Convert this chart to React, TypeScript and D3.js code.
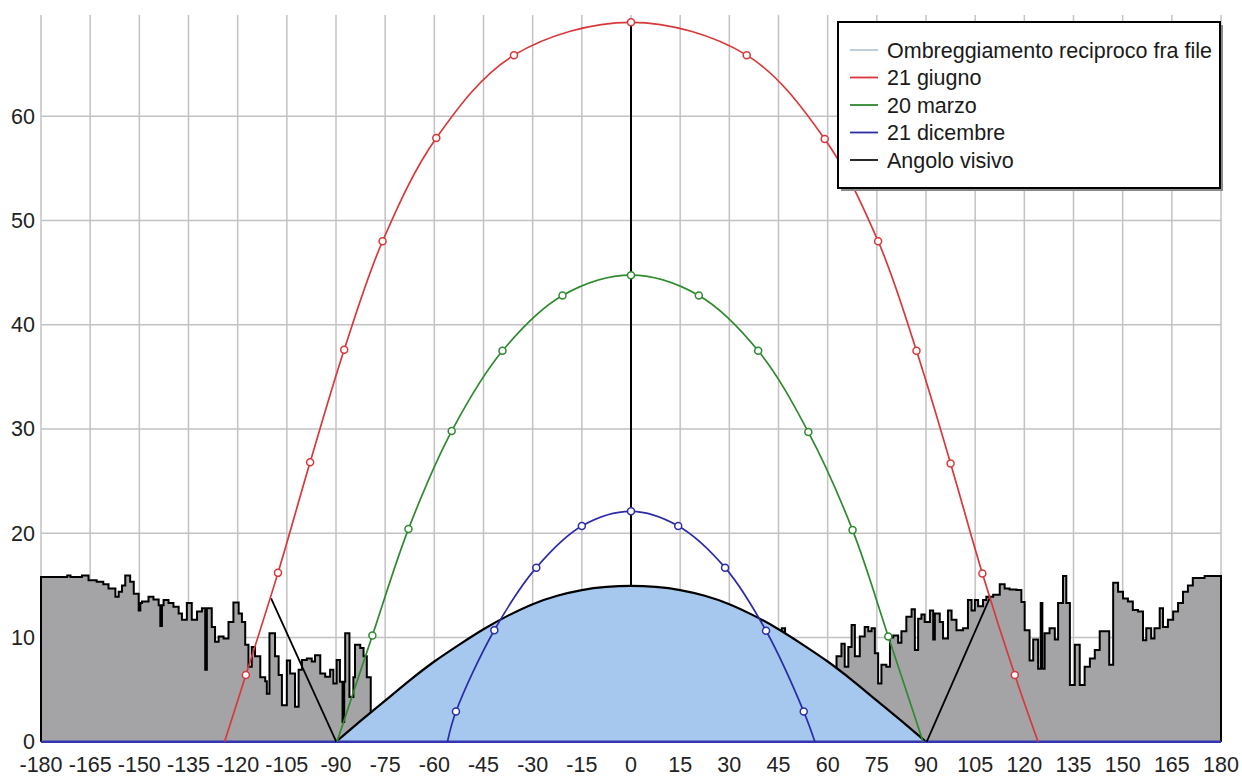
import React, { useEffect, useRef } from 'react';
import * as d3 from 'd3';

// azimuth (deg from south) / altitude (deg)
const azimuthTicks = [-180, -165, -150, -135, -120, -105, -90, -75, -60, -45, -30, -15, 0, 15, 30, 45, 60, 75, 90, 105, 120, 135, 150, 165, 180];
const altitudeTicks = [0, 10, 20, 30, 40, 50, 60];

const june: [number, number][] = [
  [-124, 0], [-117.5, 6.4], [-107.7, 16.2], [-97.9, 26.8], [-87.5, 37.6], [-75.8, 48.0], [-59.4, 57.9], [-35.7, 65.85],
  [0, 69.0], [35.3, 65.85], [59.1, 57.8], [75.4, 48.0], [87.1, 37.5], [97.5, 26.7], [107.2, 16.15], [117.1, 6.4], [124.2, 0],
];
const march: [number, number][] = [
  [-89.7, 0], [-78.9, 10.2], [-67.9, 20.4], [-54.7, 29.8], [-39.2, 37.5], [-20.9, 42.8],
  [0, 44.75], [20.7, 42.8], [38.8, 37.5], [54.1, 29.7], [67.6, 20.3], [78.5, 10.1], [89.1, 0],
];
const december: [number, number][] = [
  [-56.0, 0], [-53.4, 2.9], [-41.7, 10.7], [-28.9, 16.7], [-15.0, 20.7],
  [0, 22.1], [14.4, 20.7], [28.7, 16.7], [41.2, 10.65], [52.7, 2.9], [56.1, 0],
];
const decemberNight: [number, number][] = [[-180, 0], [180, 0]];

// mutual shading between rows
const shading: [number, number][] = [
  [-90, 0], [-82.5, 2.0], [-75, 3.95], [-67.5, 5.9], [-60, 7.7], [-52.5, 9.3], [-45, 10.8], [-37.5, 12.1],
  [-30, 13.2], [-22.5, 14.0], [-15, 14.55], [-7.5, 14.85], [0, 14.95], [7.5, 14.85], [15, 14.55], [22.5, 14.0],
  [30, 13.2], [37.5, 12.1], [45, 10.8], [52.5, 9.3], [60, 7.7], [67.5, 5.9], [75, 3.95], [82.5, 2.0], [90, 0],
];

// horizon profile (step start azimuth, altitude)
const horizon: [number, number][] = [
  [-180, 15.8], [-172, 15.95], [-171, 15.8], [-167.5, 15.95], [-165.5, 15.5], [-163, 15.35], [-161, 15.1],
  [-159.4, 14.7], [-157.3, 13.9], [-156.3, 14.4], [-155.3, 15.0], [-154.3, 15.95], [-152.8, 15.35], [-151.7, 14.2],
  [-150.2, 12.6], [-149.7, 13.3], [-149.2, 13.45], [-147.2, 13.9], [-145.7, 13.65], [-144.1, 13.1], [-143.6, 11.1],
  [-143.1, 13.1], [-142.6, 13.6], [-141.1, 13.3], [-139.6, 12.95], [-138, 12.3], [-137, 11.7], [-135.5, 13.3],
  [-134, 11.7], [-132.4, 12.5], [-130.9, 12.8], [-129.9, 6.9], [-129.4, 12.8], [-127.9, 11.0], [-126.9, 9.6],
  [-125.8, 10.1], [-124.3, 9.9], [-122.8, 11.5], [-121.3, 13.35], [-119.7, 12.3], [-118.7, 11.5], [-117.7, 9.3],
  [-116.7, 7.2], [-115.7, 9.1], [-114.7, 8.2], [-113.1, 6.2], [-111.6, 5.8], [-111.1, 4.6], [-110.3, 10.4],
  [-108.6, 8.2], [-107.5, 6.4], [-106.5, 3.5], [-105, 7.8], [-104, 6.55], [-102.5, 3.35], [-101.4, 6.9],
  [-100.4, 7.85], [-98.9, 8.0], [-97.4, 7.7], [-96.4, 8.3], [-94.8, 6.55], [-93.3, 6.25], [-91.8, 6.9],
  [-90.8, 5.6], [-89.8, 7.85], [-88.8, 5.75], [-88.0, 1.9], [-87.5, 5.75], [-87.2, 10.4], [-85.9, 4.3],
  [-84.7, 6.2], [-84.2, 9.3], [-82.6, 9.0], [-81.6, 8.2], [-80.6, 6.2], [-79.4, 2.5], [46.0, 10.9], [47.0, 2.5],
  [62.7, 8.2], [64.2, 9.4], [65.2, 7.2], [66.3, 9.1], [67.3, 11.2], [68.3, 8.2], [69.8, 10.1], [71.3, 11.0],
  [72.4, 10.6], [73.4, 10.9], [74.4, 8.5], [75.4, 5.6], [76.4, 7.4], [77.9, 7.2], [79.0, 10.0], [80.0, 10.2],
  [81.5, 9.5], [82.5, 10.6], [84.0, 12.0], [85.6, 12.7], [86.6, 8.8], [87.6, 11.8], [88.6, 12.2], [89.6, 11.5],
  [91.2, 12.6], [92.2, 9.8], [92.7, 12.3], [94.2, 11.5], [95.2, 9.9], [96.7, 12.6], [97.8, 11.7], [99.3, 10.7],
  [101.3, 10.9], [102.8, 13.6], [103.9, 12.6], [104.9, 13.6], [105.9, 13.0], [107.4, 13.6], [108.4, 13.9],
  [110.5, 14.1], [112.5, 15.1], [114.0, 14.7], [115.5, 14.6], [117.6, 14.55], [119.1, 13.4], [120.1, 10.7],
  [121.6, 7.8], [122.7, 9.8], [124.2, 7.0], [125.0, 13.3], [125.5, 7.0], [126.2, 10.4], [127.7, 10.9],
  [129.3, 9.8], [130.3, 13.3], [131.8, 15.9], [132.8, 13.3], [133.9, 5.45], [135.4, 9.3], [136.9, 5.45],
  [138.4, 7.2], [140.0, 8.0], [141.5, 8.8], [143.0, 10.6], [145.9, 7.4], [147.1, 15.25], [148.6, 14.4],
  [150.1, 13.75], [151.6, 13.45], [153.1, 12.65], [154.7, 12.5], [156.2, 9.75], [157.2, 10.9], [158.7, 9.9],
  [159.7, 10.9], [161.3, 12.8], [162.3, 11.0], [163.8, 11.7], [165.4, 12.5], [166.9, 13.3], [168.4, 14.4],
  [169.9, 15.0], [171.4, 15.7], [173.5, 15.7], [175.0, 15.9], [180, 15.9],
];

// visual angle lines
const viewNoon: [number, number][] = [[0, 0], [0, 69.0]];
const viewSides: [number, number][][] = [
  [[-109.8, 13.75], [-89.9, 0]],
  [[90.2, 0], [109.6, 13.9]],
];

const legendLabels = ['Ombreggiamento reciproco fra file', '21 giugno', '20 marzo', '21 dicembre', 'Angolo visivo'];
const legendColors = ['#b4cadb', '#d9383a', '#2e8a2e', '#2c2ca6', '#111'];

const FONT = '"Liberation Sans", Arial, sans-serif';

const App = () => {
  const svgRef = useRef<SVGSVGElement>(null);

  useEffect(() => {
    const svg = d3.select(svgRef.current);
    svg.selectAll('*').remove();

    const x = d3.scaleLinear().domain([-180, 180]).range([41, 1221]);
    const y = d3.scaleLinear().domain([0, 69.7]).range([741.8, 15]);

    const g = svg.append('g');

    // grid
    g.append('g')
      .selectAll('line')
      .data(azimuthTicks)
      .enter()
      .append('line')
      .attr('x1', d => x(d)).attr('x2', d => x(d))
      .attr('y1', y(0)).attr('y2', y(69.7))
      .attr('stroke', '#c2c2c2').attr('stroke-width', 1.5);
    g.append('g')
      .selectAll('line')
      .data(altitudeTicks)
      .enter()
      .append('line')
      .attr('x1', x(-180)).attr('x2', x(180))
      .attr('y1', d => y(d)).attr('y2', d => y(d))
      .attr('stroke', '#c2c2c2').attr('stroke-width', 1.5);

    // horizon
    const hArea = d3.area<[number, number]>()
      .x(d => x(d[0])).y0(y(0)).y1(d => y(d[1]))
      .curve(d3.curveStepAfter);
    g.append('path').datum(horizon).attr('d', hArea).attr('fill', '#a4a4a6');
    const hLine = d3.line<[number, number]>()
      .x(d => x(d[0])).y(d => y(d[1]))
      .curve(d3.curveStepAfter);
    g.append('path')
      .datum([[-180, 0] as [number, number], ...horizon, [180, 0] as [number, number]])
      .attr('d', hLine)
      .attr('fill', 'none').attr('stroke', '#000').attr('stroke-width', 2);

    const line = d3.line<[number, number]>().x(d => x(d[0])).y(d => y(d[1]));

    g.append('path').datum(viewNoon).attr('d', line)
      .attr('stroke', '#000').attr('stroke-width', 2).attr('fill', 'none');

    // mutual shading dome
    const sArea = d3.area<[number, number]>()
      .x(d => x(d[0])).y0(y(0)).y1(d => y(d[1]))
      .curve(d3.curveMonotoneX);
    g.append('path').datum(shading).attr('d', sArea).attr('fill', '#a7c8ee');
    g.append('path').datum(shading)
      .attr('d', line.curve(d3.curveMonotoneX))
      .attr('fill', 'none').attr('stroke', '#000').attr('stroke-width', 2.2);
    line.curve(d3.curveLinear);

    g.append('path').datum(decemberNight).attr('d', line)
      .attr('stroke', '#3535b0').attr('stroke-width', 2.5).attr('fill', 'none');

    viewSides.forEach(seg => {
      g.append('path').datum(seg).attr('d', line)
        .attr('stroke', '#000').attr('stroke-width', 1.8).attr('fill', 'none');
    });

    // sun paths
    const smooth = d3.line<[number, number]>()
      .x(d => x(d[0])).y(d => y(d[1]))
      .curve(d3.curveCatmullRom.alpha(0.5));
    const series: [[number, number][], string][] = [
      [june, '#d9383a'],
      [march, '#2e8a2e'],
      [december, '#2c2ca6'],
    ];
    series.forEach(([data, color]) => {
      g.append('path').datum(data).attr('d', smooth)
        .attr('fill', 'none').attr('stroke', color).attr('stroke-width', 1.7);
      g.append('g')
        .selectAll('circle')
        .data(data.filter(d => d[1] > 0))
        .enter()
        .append('circle')
        .attr('cx', d => x(d[0]))
        .attr('cy', d => y(d[1]))
        .attr('r', 3.5)
        .attr('fill', '#fff')
        .attr('stroke', color)
        .attr('stroke-width', 1.5);
    });

    // tick labels
    g.append('g')
      .selectAll('text')
      .data(azimuthTicks)
      .enter()
      .append('text')
      .attr('x', d => x(d))
      .attr('y', 772)
      .attr('text-anchor', 'middle')
      .style('font-family', FONT)
      .style('font-size', '21.5px')
      .style('fill', '#222')
      .text(d => `${d}`);
    g.append('g')
      .selectAll('text')
      .data(altitudeTicks)
      .enter()
      .append('text')
      .attr('x', 35)
      .attr('y', d => y(d) + 7.5)
      .attr('text-anchor', 'end')
      .style('font-family', FONT)
      .style('font-size', '21.5px')
      .style('fill', '#222')
      .text(d => `${d}`);

    // legend
    const lg = svg.append('g');
    lg.append('rect').attr('x', 841).attr('y', 25).attr('width', 382).attr('height', 166).attr('fill', '#8a8a8a');
    lg.append('rect').attr('x', 838).attr('y', 22).attr('width', 382).attr('height', 166)
      .attr('fill', '#fff').attr('stroke', '#000').attr('stroke-width', 2);
    legendLabels.forEach((label, i) => {
      const cy = 50 + i * 27.5;
      lg.append('line').attr('x1', 850).attr('x2', 878).attr('y1', cy).attr('y2', cy)
        .attr('stroke', legendColors[i]).attr('stroke-width', 1.8);
      lg.append('text').attr('x', 887).attr('y', cy + 7.5)
        .style('font-family', FONT).style('font-size', '21.5px').style('fill', '#1a1a1a')
        .text(label);
    });
  }, []);

  return (
    <>
      <style>{'body{margin:0}'}</style>
      <svg ref={svgRef} width={1242} height={776} style={{ display: 'block', background: '#fff' }} />
    </>
  );
};

export default App;
